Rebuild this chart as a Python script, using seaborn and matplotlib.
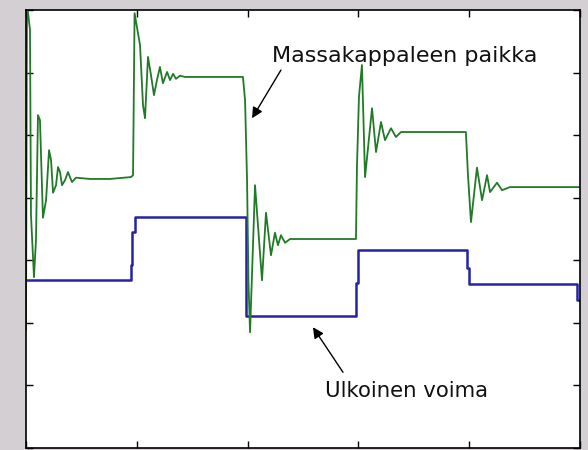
import pandas as pd
import matplotlib
matplotlib.use("Agg")
import matplotlib.pyplot as plt
import seaborn as sns

# External force (blue), piecewise constant
force_t = [0.00, 9.45, 9.60, 9.80, 19.83, 29.80, 29.95, 39.80, 39.95, 49.75, 50.00]
force_val = [-1.32, -1.08, -0.55, -0.31, -1.89, -1.36, -0.84, -1.12, -1.38, -1.64, -1.64]

# Mass position (green), damped response
pos_t = [0.00, 0.09, 0.36, 0.45, 0.72, 0.90, 1.08, 1.26, 1.53, 1.81,
         2.08, 2.26, 2.44, 2.71, 2.89, 3.07, 3.25, 3.52, 3.79, 4.15,
         4.51, 5.78, 7.58, 9.48, 9.66,
         9.80, 10.29, 10.56, 10.74, 11.01, 11.28, 11.55, 11.82, 12.09, 12.36,
         12.73, 13.00, 13.27, 13.54, 13.90, 14.35, 17.00, 19.58,
         19.77, 19.95, 20.08, 20.22, 20.67, 21.30, 21.66, 22.11, 22.47, 22.74,
         23.01, 23.38, 23.83, 26.50, 29.78,
         29.87, 30.05, 30.32, 30.60, 31.23, 31.59, 32.04, 32.40, 32.94, 33.39,
         33.84, 36.50, 39.70,
         39.89, 40.16, 40.70, 41.16, 41.61, 41.88, 42.51, 42.96, 43.68, 50.00]
pos_val = [-2.11, 3.10, 2.68, -0.28, -1.27, -0.68, 1.32, 1.24, -0.32, -0.04,
           0.76, 0.60, 0.08, 0.20, 0.49, 0.41, 0.20, 0.28, 0.41, 0.25,
           0.32, 0.30, 0.30, 0.33, 0.36,
           2.95, 2.44, 1.48, 1.27, 2.25, 1.96, 1.64, 1.88, 2.09, 1.83,
           2.01, 1.88, 1.98, 1.90, 1.95, 1.93, 1.93, 1.93,
           1.56, 0.28, -1.36, -2.15, 0.20, -1.32, -0.24, -0.92, -0.56, -0.76,
           -0.60, -0.72, -0.66, -0.66, -0.66,
           0.49, 1.61, 2.12, 0.33, 1.43, 0.73, 1.21, 0.92, 1.11, 0.97,
           1.05, 1.05, 1.05,
           0.36, -0.39, 0.48, -0.04, 0.36, 0.09, 0.24, 0.12, 0.17, 0.17]

x_ticks = [0, 10, 20, 30, 40, 50]
y_ticks = [-4, -3, -2, -1, 0, 1, 2, 3]


def main():
    sns.set_style("white")
    plt.rcParams['font.family'] = ['DejaVu Sans']

    force_df = pd.DataFrame({'t': force_t, 'F': force_val})
    pos_df = pd.DataFrame({'t': pos_t, 'x': pos_val})

    fig = plt.figure(figsize=(5.88, 4.5), dpi=100, facecolor='#d3cfd3')
    ax = fig.add_axes([26 / 588, 2 / 450, 554 / 588, 438 / 450])
    ax.set_facecolor('white')

    # force is a held signal, position drawn point to point
    sns.lineplot(data=force_df, x='t', y='F', ax=ax, color='#2323a3',
                 linewidth=1.8, drawstyle='steps-post', estimator=None, sort=False)
    sns.lineplot(data=pos_df, x='t', y='x', ax=ax, color='#217a26',
                 linewidth=1.3, estimator=None, sort=False)

    ax.set_xlim(0, 50)
    ax.set_ylim(-4, 3)
    ax.set_xticks(x_ticks)
    ax.set_yticks(y_ticks)
    ax.set_xticklabels([])
    ax.set_yticklabels([])
    ax.set_xlabel('')
    ax.set_ylabel('')
    ax.tick_params(direction='in', length=5, width=1, color='black',
                   top=True, right=True, bottom=True, left=True)
    for sp in ax.spines.values():
        sp.set_color('black')
        sp.set_linewidth(1.2)

    arrow = dict(arrowstyle='-|>', color='black', lw=1.0,
                 mutation_scale=16, shrinkA=0, shrinkB=0)
    ax.annotate('', xy=(20.40, 1.27), xytext=(23.01, 2.04), arrowprops=arrow)
    ax.annotate('', xy=(25.90, -2.07), xytext=(28.61, -2.79), arrowprops=arrow)
    ax.text(22.2, 2.17, 'Massakappaleen paikka', fontsize=16,
            ha='left', va='baseline', color='#111111')
    ax.text(27.0, -3.19, 'Ulkoinen voima', fontsize=15.3,
            ha='left', va='baseline', color='#111111')

    fig.savefig('out.png', dpi=100, facecolor=fig.get_facecolor())


if __name__ == "__main__":
    main()
